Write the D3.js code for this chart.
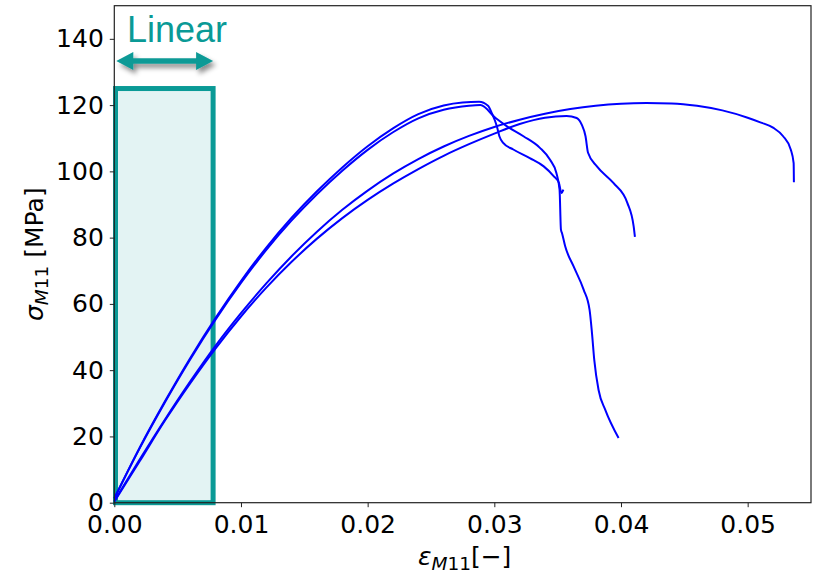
<!DOCTYPE html>
<html>
<head>
<meta charset="utf-8">
<script src="https://cdn.jsdelivr.net/npm/d3@7"></script>
<style>
  body { margin: 0; background: #fff; }
  svg { display: block; }
</style>
</head>
<body>
<div id="chart"></div>
<script>
// tick values
var xTicks = [0, 0.01, 0.02, 0.03, 0.04, 0.05];
var yTicks = [0, 20, 40, 60, 80, 100, 120, 140];

// specimen A (highest peak, sharp drop, short tail)
var strainA = [0, 0.002, 0.004, 0.006, 0.008, 0.010, 0.012, 0.014, 0.016, 0.018, 0.020, 0.022, 0.024, 0.026, 0.0275, 0.0288, 0.0295, 0.0298, 0.0302, 0.0304, 0.0307, 0.0315, 0.0328, 0.0339, 0.0347, 0.0351, 0.0353, 0.03545];
var stressA = [1.3, 16.6, 30.6, 43.7, 55.8, 66.9, 77.0, 86.0, 94.0, 101.2, 107.6, 113.0, 117.3, 119.9, 120.8, 121.0, 119.8, 117.6, 113.6, 110.6, 108.6, 106.6, 104.0, 101.5, 98.5, 96.5, 93.5, 94.5];

// specimen B (long vertical tail down to 20 MPa)
var strainB = [0, 0.002, 0.004, 0.006, 0.008, 0.010, 0.012, 0.014, 0.016, 0.018, 0.020, 0.022, 0.024, 0.026, 0.028, 0.0289, 0.0301, 0.031, 0.0323, 0.0336, 0.0344, 0.0349, 0.03515, 0.03526, 0.03534, 0.0356, 0.03626, 0.03705, 0.03752, 0.03771, 0.03789, 0.03823, 0.03876, 0.03981];
var stressB = [1.3, 16.4, 30.3, 43.3, 55.3, 66.3, 76.3, 85.2, 93.1, 100.2, 106.5, 111.8, 116.0, 118.6, 119.8, 120.0, 116.1, 113.6, 110.6, 107.1, 103.5, 99.5, 94.5, 82.4, 81.4, 77.3, 71.3, 64.3, 58.2, 51.2, 43.1, 34.0, 28.0, 19.5];

// specimen C (peak ~117, ends ~80)
var strainC = [0, 0.002, 0.004, 0.006, 0.008, 0.010, 0.012, 0.014, 0.016, 0.018, 0.020, 0.022, 0.024, 0.026, 0.028, 0.030, 0.032, 0.034, 0.0357, 0.0365, 0.0369, 0.0372, 0.0374, 0.0381, 0.0394, 0.0405, 0.0410, 0.0411];
var stressC = [0.3, 12.5, 24.8, 36.1, 46.6, 56.2, 64.9, 72.7, 79.7, 85.9, 91.4, 96.3, 100.7, 104.7, 108.2, 111.4, 114.3, 116.2, 116.7, 116.1, 114.1, 110.6, 105.6, 101.5, 96.5, 90.5, 83.4, 80.2];

// specimen D (most ductile)
var strainD = [0, 0.002, 0.004, 0.006, 0.008, 0.010, 0.012, 0.014, 0.016, 0.018, 0.020, 0.022, 0.024, 0.026, 0.028, 0.030, 0.032, 0.034, 0.036, 0.038, 0.040, 0.042, 0.044, 0.046, 0.048, 0.050, 0.051, 0.052, 0.0528, 0.0534, 0.05363, 0.05365];
var stressD = [0.5, 13.0, 25.1, 36.6, 47.4, 57.2, 66.2, 74.4, 81.8, 88.4, 94.2, 99.3, 103.7, 107.5, 110.7, 113.4, 115.6, 117.4, 118.8, 119.8, 120.4, 120.6, 120.5, 119.8, 118.4, 116.2, 114.8, 113.2, 110.6, 106.6, 102.5, 96.7];

// linear region annotation (strain limit, stress height)
var linearX = [0, 0.0078];
var linearY = [0, 125];

var width = 817, height = 573;
var margin = {top: 5.7, right: 6, bottom: 70.3, left: 114.3};

var teal = "#0a9a96";

var svg = d3.select("#chart").append("svg")
    .attr("width", width)
    .attr("height", height);

var defs = svg.append("defs");
var shadow = defs.append("filter")
    .attr("id", "shadow")
    .attr("x", "-20%").attr("y", "-100%")
    .attr("width", "140%").attr("height", "300%");
shadow.append("feDropShadow")
    .attr("dx", 3).attr("dy", 4)
    .attr("stdDeviation", 2.5)
    .attr("flood-color", "#000")
    .attr("flood-opacity", 0.45);

var x = d3.scaleLinear()
    .domain([0, 0.055])
    .range([margin.left, width - margin.right]);

var y = d3.scaleLinear()
    .domain([0, 150])
    .range([height - margin.bottom, margin.top]);

// linear region box (fill first, curves go on top)
svg.append("rect")
    .attr("x", x(linearX[0]) + 1.2)
    .attr("y", y(linearY[1]))
    .attr("width", x(linearX[1]) - x(linearX[0]) - 1.2)
    .attr("height", y(linearY[0]) - y(linearY[1]))
    .attr("fill", "#e3f3f3")
    .attr("stroke", teal)
    .attr("stroke-width", 5);

// curves
var line = d3.line()
    .x(function(d) { return x(d[0]); })
    .y(function(d) { return y(d[1]); })
    .curve(d3.curveMonotoneX);

var specimens = [[strainA, stressA], [strainB, stressB], [strainC, stressC], [strainD, stressD]];
specimens.forEach(function(s) {
  var pts = s[0].map(function(v, i) { return [v, s[1][i]]; });
  svg.append("path")
      .datum(pts)
      .attr("fill", "none")
      .attr("stroke", "#0000ff")
      .attr("stroke-width", 2)
      .attr("stroke-linejoin", "round")
      .attr("d", line);
});

// axes
var xAxis = svg.append("g")
    .attr("transform", "translate(0," + (height - margin.bottom) + ")")
    .call(d3.axisBottom(x).tickValues(xTicks).tickFormat(d3.format(".2f")).tickSizeOuter(0).tickSize(4.5).tickPadding(6));

var yAxis = svg.append("g")
    .attr("transform", "translate(" + margin.left + ",0)")
    .call(d3.axisLeft(y).tickValues(yTicks).tickFormat(d3.format("d")).tickSizeOuter(0).tickSize(4.5).tickPadding(6));

[xAxis, yAxis].forEach(function(g) {
  g.select(".domain").remove();
  g.selectAll(".tick line").attr("stroke", "#222").attr("stroke-width", 1);
  g.selectAll(".tick text")
      .attr("fill", "#000")
      .style("font-family", "DejaVu Sans")
      .style("font-size", "25px");
});
xAxis.selectAll(".tick text").attr("dy", "0.78em");

// frame
svg.append("rect")
    .attr("x", margin.left)
    .attr("y", margin.top)
    .attr("width", width - margin.left - margin.right)
    .attr("height", height - margin.top - margin.bottom)
    .attr("fill", "none")
    .attr("stroke", "#222")
    .attr("stroke-width", 1.2);

// axis labels
var xl = svg.append("text")
    .attr("x", (margin.left + width - margin.right) / 2 + 2)
    .attr("y", 565)
    .attr("text-anchor", "middle")
    .style("font-family", "DejaVu Sans")
    .style("font-size", "25px")
    .attr("fill", "#000");
xl.append("tspan").style("font-style", "italic").text("ε");
xl.append("tspan").attr("dy", 5).style("font-size", "18.5px").style("font-style", "italic").text("M");
xl.append("tspan").style("font-size", "18.5px").text("11");
xl.append("tspan").attr("dy", -5).text("[−]");

var yl = svg.append("text")
    .attr("transform", "translate(43," + ((margin.top + height - margin.bottom) / 2) + ") rotate(-90)")
    .attr("text-anchor", "middle")
    .style("font-family", "DejaVu Sans")
    .style("font-size", "25px")
    .attr("fill", "#000");
yl.append("tspan").style("font-style", "italic").text("σ");
yl.append("tspan").attr("dy", 5).style("font-size", "18.5px").style("font-style", "italic").text("M");
yl.append("tspan").style("font-size", "18.5px").text("11");
yl.append("tspan").attr("dy", -5).text(" [MPa]");

// "Linear" annotation with double-headed arrow
svg.append("text")
    .attr("x", 127)
    .attr("y", 42)
    .style("font-family", "Liberation Sans")
    .style("font-size", "36px")
    .attr("fill", teal)
    .text("Linear");

var ax0 = x(linearX[0]) + 2, ax1 = x(linearX[1]), ay = 61;
var head = 17, half = 9, shaft = 2.8;
var arrowPts = [
  [ax0, ay],
  [ax0 + head, ay - half],
  [ax0 + head, ay - shaft],
  [ax1 - head, ay - shaft],
  [ax1 - head, ay - half],
  [ax1, ay],
  [ax1 - head, ay + half],
  [ax1 - head, ay + shaft],
  [ax0 + head, ay + shaft],
  [ax0 + head, ay + half]
];
svg.append("path")
    .attr("d", d3.line()(arrowPts) + "Z")
    .attr("fill", teal)
    .attr("filter", "url(#shadow)");
</script>
</body>
</html>
